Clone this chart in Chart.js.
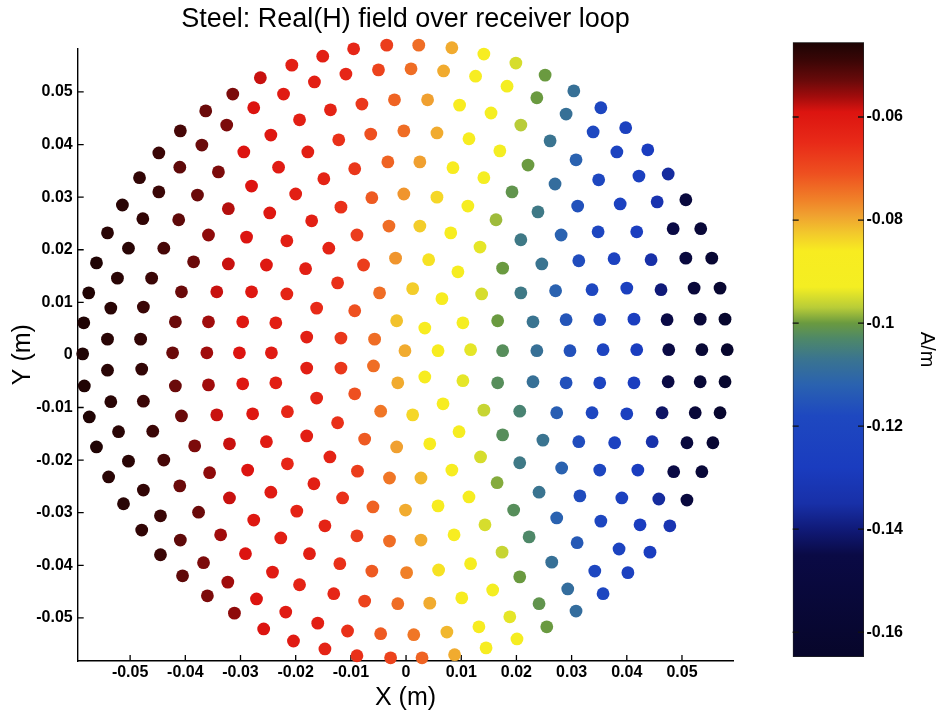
<!DOCTYPE html>
<html>
<head>
<meta charset="utf-8">
<title>Steel: Real(H) field over receiver loop</title>
<script src="https://cdn.jsdelivr.net/npm/chart.js@4/dist/chart.umd.min.js"></script>
<style>
  html, body { margin: 0; padding: 0; background: #fff; }
  #wrap { position: relative; width: 943px; height: 713px; overflow: hidden; background: #fff; }
  #field { position: absolute; left: 0; top: 0; }
  #bar { position: absolute; left: 760px; top: 0; }
</style>
</head>
<body>
<div id="wrap">
  <canvas id="field" width="943" height="713"></canvas>
  <canvas id="bar" width="183" height="713"></canvas>
</div>
<script>
// Sample positions on the receiver loop (m)
const pointX = [
  -0.0207,-0.0264,-0.0314,-0.0222,-0.0363,-0.0276,-0.0193,-0.0325,-0.0409,-0.0245,
  -0.0370,-0.0448,-0.0294,-0.0410,-0.0231,-0.0340,-0.0483,-0.0448,-0.0280,-0.0378,
  -0.0200,-0.0514,-0.0322,-0.0477,-0.0247,-0.0412,-0.0541,-0.0358,-0.0289,-0.0216,
  -0.0503,-0.0439,-0.0561,-0.0385,-0.0322,-0.0253,-0.0523,-0.0461,-0.0575,-0.0407,
  -0.0343,-0.0280,-0.0216,-0.0535,-0.0476,-0.0584,-0.0418,-0.0358,-0.0296,-0.0236,
  -0.0541,-0.0481,-0.0586,-0.0423,-0.0361,-0.0302,-0.0244,-0.0151,-0.0095,-0.0035,
  0.0023,0.0083,0.0141,0.0199,-0.0166,-0.0109,-0.0050,0.0009,0.0068,0.0126,
  0.0183,-0.0137,-0.0080,-0.0021,0.0039,0.0097,0.0154,0.0208,-0.0122,-0.0064,
  -0.0004,0.0056,0.0114,0.0170,-0.0178,-0.0093,-0.0033,0.0025,0.0085,0.0141,
  -0.0149,0.0192,-0.0118,-0.0062,-0.0004,0.0056,0.0112,0.0163,-0.0171,-0.0089,
  -0.0031,0.0025,0.0081,0.0134,0.0208,-0.0140,-0.0077,-0.0019,0.0041,0.0094,
  0.0175,-0.0182,-0.0124,-0.0048,0.0012,0.0065,0.0137,0.0208,-0.0162,-0.0093,
  -0.0017,0.0034,0.0103,0.0166,-0.0180,-0.0118,-0.0057,-0.0002,0.0058,0.0117,
  0.0175,0.0252,0.0304,0.0237,0.0353,0.0290,0.0398,0.0339,0.0261,0.0438,
  0.0382,0.0308,0.0221,0.0475,0.0422,0.0349,0.0270,0.0507,0.0455,0.0388,
  0.0311,0.0239,0.0534,0.0484,0.0418,0.0348,0.0281,0.0554,0.0507,0.0444,
  0.0377,0.0313,0.0246,0.0569,0.0522,0.0462,0.0400,0.0337,0.0271,0.0578,
  0.0533,0.0473,0.0413,0.0351,0.0290,0.0230,0.0582,0.0536,0.0476,0.0418,
  0.0357,0.0297,0.0237,-0.0541,-0.0479,-0.0583,-0.0418,-0.0358,-0.0296,-0.0236,
  -0.0535,-0.0476,-0.0574,-0.0407,-0.0343,-0.0278,-0.0215,-0.0521,-0.0459,-0.0561,
  -0.0383,-0.0320,-0.0253,-0.0503,-0.0439,-0.0215,-0.0539,-0.0356,-0.0287,-0.0476,
  -0.0410,-0.0320,-0.0245,-0.0512,-0.0445,-0.0376,-0.0198,-0.0276,-0.0479,-0.0409,
  -0.0336,-0.0227,-0.0445,-0.0291,-0.0367,-0.0242,-0.0405,-0.0323,-0.0193,-0.0360,
  -0.0271,-0.0311,-0.0218,-0.0258,-0.0204,-0.0180,-0.0118,-0.0059,-0.0015,0.0034,
  0.0103,0.0166,-0.0162,-0.0093,-0.0046,0.0012,0.0067,0.0141,0.0206,-0.0124,
  -0.0180,-0.0075,-0.0017,0.0043,0.0096,0.0175,-0.0138,0.0135,-0.0088,-0.0030,
  0.0027,0.0083,0.0206,-0.0167,0.0165,-0.0115,-0.0060,-0.0001,0.0058,0.0114,
  0.0195,-0.0147,0.0143,-0.0089,-0.0030,0.0027,0.0087,0.0174,-0.0175,-0.0120,
  -0.0062,0.0001,0.0059,0.0117,0.0206,-0.0131,-0.0075,-0.0015,0.0043,0.0101,
  0.0157,-0.0160,-0.0106,-0.0046,0.0014,0.0074,0.0132,0.0188,-0.0147,-0.0089,
  -0.0028,0.0029,0.0088,0.0145,0.0201,0.0230,0.0290,0.0351,0.0413,0.0475,
  0.0533,0.0578,0.0273,0.0337,0.0400,0.0464,0.0524,0.0569,0.0248,0.0313,
  0.0378,0.0446,0.0509,0.0556,0.0282,0.0351,0.0420,0.0485,0.0536,0.0241,
  0.0315,0.0391,0.0458,0.0509,0.0273,0.0353,0.0424,0.0478,0.0223,0.0310,
  0.0386,0.0442,0.0264,0.0342,0.0402,0.0293,0.0357,0.0241,0.0308,0.0255
];
const pointY = [
  0.0551,0.0527,0.0496,0.0496,0.0464,0.0470,0.0447,0.0437,0.0426,0.0418,
  0.0399,0.0384,0.0386,0.0357,0.0357,0.0348,0.0337,0.0310,0.0321,0.0304,
  0.0306,0.0285,0.0278,0.0259,0.0270,0.0257,0.0232,0.0228,0.0224,0.0217,
  0.0203,0.0203,0.0175,0.0177,0.0173,0.0171,0.0146,0.0146,0.0118,0.0120,
  0.0120,0.0120,0.0116,0.0089,0.0091,0.0061,0.0063,0.0063,0.0063,0.0061,
  0.0030,0.0030,0.0002,0.0004,0.0004,0.0004,0.0004,0.0568,0.0582,0.0589,
  0.0589,0.0584,0.0572,0.0555,0.0519,0.0534,0.0542,0.0544,0.0540,0.0530,
  0.0511,0.0466,0.0477,0.0485,0.0485,0.0475,0.0460,0.0437,0.0409,0.0420,
  0.0426,0.0422,0.0411,0.0388,0.0386,0.0354,0.0367,0.0367,0.0356,0.0337,
  0.0335,0.0310,0.0281,0.0299,0.0306,0.0300,0.0283,0.0257,0.0255,0.0228,
  0.0245,0.0245,0.0232,0.0205,0.0219,0.0203,0.0171,0.0184,0.0181,0.0158,
  0.0165,0.0164,0.0137,0.0118,0.0126,0.0107,0.0116,0.0118,0.0089,0.0084,
  0.0065,0.0051,0.0061,0.0065,0.0034,0.0032,0.0030,0.0008,0.0008,0.0010,
  0.0008,0.0532,0.0502,0.0489,0.0470,0.0458,0.0432,0.0424,0.0407,0.0390,
  0.0386,0.0371,0.0361,0.0344,0.0340,0.0333,0.0325,0.0295,0.0291,0.0287,
  0.0283,0.0272,0.0240,0.0240,0.0234,0.0234,0.0228,0.0184,0.0184,0.0181,
  0.0183,0.0179,0.0173,0.0127,0.0127,0.0124,0.0127,0.0124,0.0122,0.0068,
  0.0068,0.0067,0.0068,0.0067,0.0067,0.0063,0.0010,0.0010,0.0010,0.0010,
  0.0010,0.0008,0.0008,-0.0029,-0.0027,-0.0059,-0.0059,-0.0057,-0.0055,-0.0053,
  -0.0089,-0.0088,-0.0118,-0.0116,-0.0114,-0.0112,-0.0108,-0.0146,-0.0145,-0.0175,
  -0.0173,-0.0169,-0.0165,-0.0202,-0.0200,-0.0207,-0.0232,-0.0224,-0.0219,-0.0257,
  -0.0249,-0.0272,-0.0261,-0.0283,-0.0306,-0.0299,-0.0297,-0.0314,-0.0333,-0.0352,
  -0.0342,-0.0348,-0.0380,-0.0378,-0.0395,-0.0413,-0.0420,-0.0432,-0.0437,-0.0458,
  -0.0464,-0.0491,-0.0489,-0.0521,-0.0544,-0.0025,-0.0025,-0.0021,-0.0053,-0.0042,
  -0.0049,-0.0053,-0.0082,-0.0074,-0.0107,-0.0114,-0.0093,-0.0105,-0.0107,-0.0129,
  -0.0154,-0.0160,-0.0175,-0.0169,-0.0146,-0.0152,-0.0194,-0.0194,-0.0221,-0.0234,
  -0.0234,-0.0219,-0.0205,-0.0245,-0.0243,-0.0272,-0.0289,-0.0295,-0.0287,-0.0270,
  -0.0295,-0.0325,-0.0323,-0.0344,-0.0354,-0.0352,-0.0342,-0.0375,-0.0378,-0.0397,
  -0.0411,-0.0414,-0.0409,-0.0397,-0.0422,-0.0454,-0.0468,-0.0473,-0.0472,-0.0462,
  -0.0447,-0.0510,-0.0525,-0.0530,-0.0532,-0.0527,-0.0517,-0.0498,-0.0559,-0.0572,
  -0.0576,-0.0576,-0.0570,-0.0557,-0.0540,-0.0051,-0.0053,-0.0053,-0.0053,-0.0051,
  -0.0051,-0.0051,-0.0110,-0.0110,-0.0112,-0.0110,-0.0110,-0.0110,-0.0162,-0.0165,
  -0.0167,-0.0165,-0.0167,-0.0167,-0.0215,-0.0219,-0.0219,-0.0222,-0.0222,-0.0261,
  -0.0268,-0.0272,-0.0274,-0.0276,-0.0310,-0.0316,-0.0323,-0.0325,-0.0346,-0.0357,
  -0.0369,-0.0375,-0.0394,-0.0411,-0.0414,-0.0445,-0.0454,-0.0473,-0.0487,-0.0517
];
// Real(H) at each sample (A/m)
const realH = [
  -0.062,-0.058,-0.054,-0.061,-0.053,-0.059,-0.062,-0.054,-0.050,-0.060,
  -0.053,-0.049,-0.059,-0.052,-0.061,-0.054,-0.048,-0.049,-0.059,-0.053,
  -0.062,-0.047,-0.057,-0.048,-0.060,-0.052,-0.047,-0.055,-0.059,-0.062,
  -0.047,-0.050,-0.046,-0.053,-0.058,-0.060,-0.047,-0.049,-0.046,-0.053,
  -0.058,-0.060,-0.063,-0.047,-0.049,-0.046,-0.053,-0.056,-0.060,-0.062,
  -0.047,-0.048,-0.046,-0.053,-0.056,-0.059,-0.061,-0.062,-0.064,-0.068,
  -0.074,-0.080,-0.088,-0.095,-0.062,-0.064,-0.069,-0.074,-0.080,-0.088,
  -0.093,-0.063,-0.067,-0.073,-0.079,-0.086,-0.092,-0.097,-0.066,-0.071,
  -0.074,-0.080,-0.088,-0.093,-0.062,-0.067,-0.073,-0.079,-0.086,-0.092,
  -0.063,-0.101,-0.066,-0.072,-0.078,-0.084,-0.089,-0.098,-0.062,-0.068,
  -0.074,-0.083,-0.088,-0.094,-0.106,-0.063,-0.068,-0.078,-0.085,-0.089,
  -0.100,-0.062,-0.066,-0.074,-0.083,-0.087,-0.095,-0.106,-0.065,-0.071,
  -0.082,-0.086,-0.092,-0.100,-0.062,-0.067,-0.074,-0.080,-0.087,-0.094,
  -0.102,-0.100,-0.108,-0.100,-0.120,-0.108,-0.124,-0.118,-0.107,-0.128,
  -0.122,-0.112,-0.100,-0.136,-0.125,-0.119,-0.109,-0.150,-0.133,-0.123,
  -0.116,-0.106,-0.155,-0.145,-0.126,-0.120,-0.112,-0.158,-0.150,-0.135,
  -0.123,-0.117,-0.107,-0.160,-0.153,-0.140,-0.125,-0.119,-0.112,-0.162,
  -0.155,-0.145,-0.126,-0.120,-0.115,-0.107,-0.163,-0.157,-0.146,-0.127,
  -0.121,-0.116,-0.108,-0.047,-0.048,-0.046,-0.053,-0.056,-0.060,-0.062,
  -0.047,-0.049,-0.046,-0.053,-0.058,-0.060,-0.064,-0.047,-0.049,-0.046,
  -0.054,-0.058,-0.061,-0.047,-0.050,-0.064,-0.047,-0.055,-0.059,-0.048,
  -0.053,-0.058,-0.061,-0.047,-0.049,-0.053,-0.063,-0.060,-0.048,-0.052,
  -0.056,-0.062,-0.049,-0.059,-0.054,-0.061,-0.052,-0.056,-0.063,-0.054,
  -0.059,-0.055,-0.061,-0.059,-0.061,-0.062,-0.067,-0.074,-0.080,-0.087,
  -0.094,-0.102,-0.063,-0.071,-0.075,-0.084,-0.088,-0.096,-0.104,-0.066,
  -0.062,-0.072,-0.079,-0.086,-0.089,-0.102,-0.063,-0.095,-0.068,-0.075,
  -0.081,-0.088,-0.106,-0.062,-0.099,-0.066,-0.073,-0.080,-0.087,-0.090,
  -0.102,-0.063,-0.095,-0.068,-0.074,-0.080,-0.088,-0.096,-0.062,-0.066,
  -0.072,-0.076,-0.085,-0.089,-0.100,-0.064,-0.069,-0.074,-0.080,-0.087,
  -0.093,-0.062,-0.066,-0.072,-0.075,-0.081,-0.087,-0.094,-0.063,-0.066,
  -0.069,-0.073,-0.080,-0.088,-0.091,-0.108,-0.116,-0.121,-0.126,-0.146,
  -0.156,-0.162,-0.113,-0.119,-0.125,-0.142,-0.154,-0.161,-0.107,-0.117,
  -0.123,-0.134,-0.151,-0.158,-0.112,-0.120,-0.127,-0.146,-0.155,-0.107,
  -0.117,-0.124,-0.136,-0.150,-0.112,-0.120,-0.127,-0.132,-0.103,-0.114,
  -0.122,-0.127,-0.108,-0.119,-0.124,-0.109,-0.120,-0.101,-0.109,-0.100
];

// Axis limits and ticks
const xLimits = [-0.0595, 0.0593];
const yLimits = [-0.0582, 0.0583];
const xTicks = [-0.05, -0.04, -0.03, -0.02, -0.01, 0, 0.01, 0.02, 0.03, 0.04, 0.05];
const xTickLabels = ['-0.05', '-0.04', '-0.03', '-0.02', '-0.01', '0', '0.01', '0.02', '0.03', '0.04', '0.05'];
const yTicks = [-0.05, -0.04, -0.03, -0.02, -0.01, 0, 0.01, 0.02, 0.03, 0.04, 0.05];
const yTickLabels = ['-0.05', '-0.04', '-0.03', '-0.02', '-0.01', '0', '0.01', '0.02', '0.03', '0.04', '0.05'];

// Colour bar range and ticks (A/m)
const cbLimits = [-0.1648, -0.0455];
const cbTicks = [-0.16, -0.14, -0.12, -0.1, -0.08, -0.06];
const cbTickLabels = ['-0.16', '-0.14', '-0.12', '-0.1', '-0.08', '-0.06'];

// Colour map: value (A/m) -> colour
const colorStops = [
  [-0.1650, '#07062a'], [-0.1450, '#0a0a45'], [-0.1400, '#101a78'], [-0.1350, '#1830a8'],
  [-0.1280, '#1a3cbf'], [-0.1180, '#1e48c0'], [-0.1120, '#2a62b0'], [-0.1070, '#3a7490'],
  [-0.1030, '#4e8868'], [-0.1000, '#6a9a40'], [-0.0970, '#b8cc38'], [-0.0930, '#f4ee22'],
  [-0.0860, '#f8ec20'], [-0.0825, '#f2c82c'], [-0.0790, '#f0a030'], [-0.0760, '#f08028'],
  [-0.0710, '#ee5020'], [-0.0650, '#e82a18'], [-0.0590, '#dc1410'], [-0.0560, '#a00c0c'],
  [-0.0530, '#6a0a0a'], [-0.0490, '#3a0606'], [-0.0455, '#1c0404']
];

function hexToRgb(h) {
  return [parseInt(h.slice(1, 3), 16), parseInt(h.slice(3, 5), 16), parseInt(h.slice(5, 7), 16)];
}
function colorAt(v) {
  if (v <= colorStops[0][0]) return colorStops[0][1];
  const last = colorStops[colorStops.length - 1];
  if (v >= last[0]) return last[1];
  for (let i = 1; i < colorStops.length; i++) {
    const [v1, c1] = colorStops[i];
    if (v <= v1) {
      const [v0, c0] = colorStops[i - 1];
      const t = (v - v0) / (v1 - v0);
      const a = hexToRgb(c0), b = hexToRgb(c1);
      const m = a.map((x, k) => Math.round(x + (b[k] - x) * t));
      return `rgb(${m[0]},${m[1]},${m[2]})`;
    }
  }
  return last[1];
}

const FONT = '"Liberation Sans", Arial, Helvetica, sans-serif';
Chart.defaults.font.family = FONT;
Chart.defaults.color = '#000';

// Inward tick marks on the left and bottom axes
const fieldTicks = {
  id: 'fieldTicks',
  beforeDatasetsDraw(chart) {
    const { ctx, chartArea: a, scales: { x, y } } = chart;
    ctx.save();
    ctx.strokeStyle = '#000';
    ctx.lineWidth = 1.3;
    ctx.beginPath();
    xTicks.forEach(v => {
      const p = x.getPixelForValue(v);
      ctx.moveTo(p, a.bottom);
      ctx.lineTo(p, a.bottom - 6);
    });
    yTicks.forEach(v => {
      const p = y.getPixelForValue(v);
      ctx.moveTo(a.left, p);
      ctx.lineTo(a.left + 6, p);
    });
    ctx.stroke();
    ctx.restore();
  }
};

new Chart(document.getElementById('field'), {
  type: 'scatter',
  data: {
    datasets: [{
      label: 'Real(H)',
      data: pointX.map((x, i) => ({ x, y: pointY[i] })),
      backgroundColor: realH.map(colorAt),
      pointRadius: 6.4,
      pointBorderWidth: 0,
      clip: false
    }]
  },
  options: {
    responsive: false,
    animation: false,
    events: [],
    layout: { padding: { left: 0, right: 943 - 733.3, top: 0, bottom: 0 } },
    plugins: {
      legend: { display: false },
      tooltip: { enabled: false },
      title: {
        display: true,
        fullSize: false,
        text: 'Steel: Real(H) field over receiver loop',
        color: '#000',
        font: { size: 27, weight: 'normal' },
        padding: { top: 3.8, bottom: 12.1 }
      }
    },
    scales: {
      x: {
        type: 'linear',
        min: xLimits[0],
        max: xLimits[1],
        grid: { display: false, drawTicks: false, tickLength: 0 },
        border: { display: true, color: '#000', width: 1.4 },
        afterBuildTicks: s => { s.ticks = xTicks.map(v => ({ value: v })); },
        afterFit: s => { s.height = 52; },
        ticks: {
          autoSkip: false,
          maxRotation: 0,
          padding: 2,
          color: '#000',
          font: { size: 16, weight: 'bold' },
          callback: (v, i) => xTickLabels[i]
        },
        title: {
          display: true,
          text: 'X (m)',
          color: '#000',
          font: { size: 25 },
          padding: { top: 1, bottom: 0 }
        }
      },
      y: {
        type: 'linear',
        min: yLimits[0],
        max: yLimits[1],
        grid: { display: false, drawTicks: false, tickLength: 0 },
        border: { display: true, color: '#000', width: 1.4 },
        afterBuildTicks: s => { s.ticks = yTicks.map(v => ({ value: v })); },
        afterFit: s => { s.width = 77.7; },
        ticks: {
          autoSkip: false,
          padding: 5,
          color: '#000',
          font: { size: 16, weight: 'bold' },
          callback: (v, i) => yTickLabels[i]
        },
        title: {
          display: true,
          text: 'Y (m)',
          color: '#000',
          font: { size: 25 },
          padding: { top: 8, bottom: 0 }
        }
      }
    }
  },
  plugins: [fieldTicks]
});

// Inward tick marks on both edges of the colour bar
const barTicks = {
  id: 'barTicks',
  afterDatasetsDraw(chart) {
    const { ctx, chartArea: a, scales: { y } } = chart;
    ctx.save();
    ctx.strokeStyle = '#111';
    ctx.lineWidth = 1.3;
    ctx.beginPath();
    cbTicks.forEach(v => {
      const p = y.getPixelForValue(v);
      ctx.moveTo(a.left, p); ctx.lineTo(a.left + 6, p);
      ctx.moveTo(a.right, p); ctx.lineTo(a.right - 6, p);
    });
    ctx.stroke();
    ctx.restore();
  }
};

new Chart(document.getElementById('bar'), {
  type: 'bar',
  data: {
    labels: [''],
    datasets: [{
      data: [[cbLimits[0], cbLimits[1]]],
      backgroundColor(c) {
        const chart = c.chart;
        const ys = chart.scales.y;
        if (!chart.chartArea || !ys) return colorAt(-0.1);
        const y0 = ys.getPixelForValue(cbLimits[0]);
        const y1 = ys.getPixelForValue(cbLimits[1]);
        const g = chart.ctx.createLinearGradient(0, y0, 0, y1);
        const span = cbLimits[1] - cbLimits[0];
        colorStops.forEach(([v, col]) => {
          g.addColorStop(Math.min(1, Math.max(0, (v - cbLimits[0]) / span)), col);
        });
        return g;
      },
      borderColor: '#222',
      borderWidth: 1,
      borderSkipped: false,
      barPercentage: 1,
      categoryPercentage: 1
    }]
  },
  options: {
    responsive: false,
    animation: false,
    events: [],
    layout: { padding: { left: 32.7, right: 0, top: 42.3, bottom: 56 } },
    plugins: {
      legend: { display: false },
      tooltip: { enabled: false },
      title: { display: false }
    },
    scales: {
      x: { display: false },
      y: {
        type: 'linear',
        position: 'right',
        beginAtZero: false,
        min: cbLimits[0],
        max: cbLimits[1],
        grid: { display: false, drawTicks: false, tickLength: 0 },
        border: { display: false },
        afterBuildTicks: s => { s.ticks = cbTicks.map(v => ({ value: v })); },
        afterFit: s => { s.width = 79; },
        ticks: {
          autoSkip: false,
          padding: 2.5,
          color: '#000',
          font: { size: 16, weight: 'bold' },
          callback: (v, i) => cbTickLabels[i]
        },
        title: {
          display: true,
          text: 'A/m',
          color: '#000',
          font: { size: 20 },
          padding: { top: 4, bottom: 0 }
        }
      }
    }
  },
  plugins: [barTicks]
});
</script>
</body>
</html>
